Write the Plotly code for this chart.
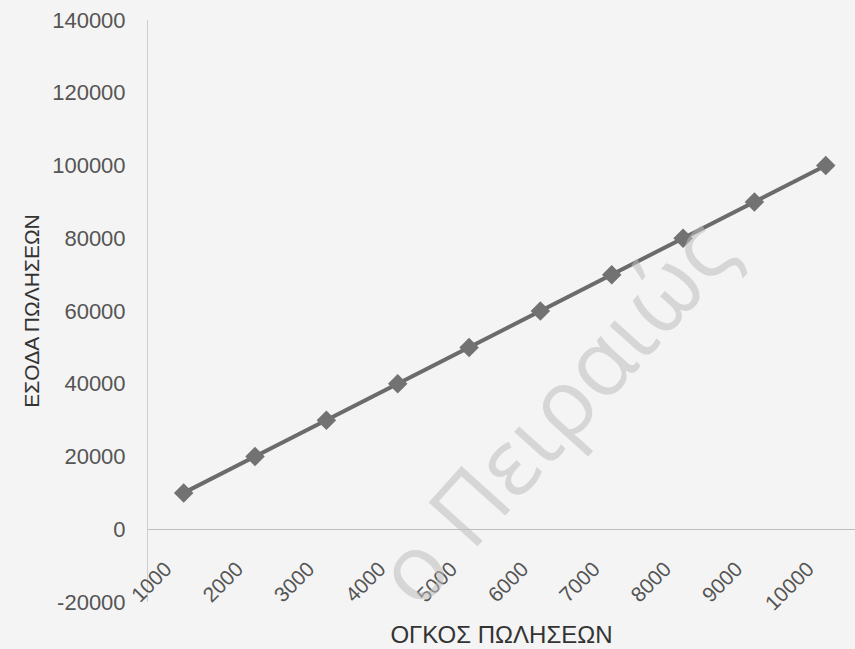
import plotly.graph_objects as go

# Sales volume (categories) and sales revenue
volume_labels = ["1000", "2000", "3000", "4000", "5000", "6000", "7000", "8000", "9000", "10000"]
revenue = [10000, 20000, 30000, 40000, 50000, 60000, 70000, 80000, 90000, 100000]
y_ticks = [-20000, 0, 20000, 40000, 60000, 80000, 100000, 120000, 140000]

x_idx = list(range(len(volume_labels)))

BG = "#f4f4f4"
FONT = "Liberation Sans, Arial, sans-serif"

fig = go.Figure()
fig.add_trace(go.Scatter(
    x=x_idx,
    y=revenue,
    mode="lines+markers",
    line=dict(color="#6b6b6b", width=4),
    marker=dict(symbol="diamond", size=15, color="#727272", line=dict(width=0)),
    showlegend=False,
    hoverinfo="skip",
))

# faint university watermark
fig.add_annotation(
    text="ο Πειραιώς",
    xref="paper", yref="paper",
    x=0.573, y=0.33,
    xanchor="center", yanchor="middle",
    textangle=-48,
    showarrow=False,
    font=dict(family="Open Sans, sans-serif", size=92, color="rgba(190,190,190,0.55)"),
)

fig.update_layout(
    width=855, height=649,
    margin=dict(l=148, r=0, t=20, b=47),
    paper_bgcolor=BG,
    plot_bgcolor=BG,
    font=dict(family=FONT, color="#555555"),
    xaxis=dict(
        tickmode="array",
        tickvals=x_idx,
        ticktext=volume_labels,
        range=[-0.5, 9.41],
        tickangle=-45,
        tickfont=dict(size=21, color="#555555"),
        showgrid=False,
        zeroline=False,
        showline=True,
        linecolor="#bdbdbd",
        linewidth=1,
        anchor="free",
        position=0.125,
        ticks="",
        ticklabelstandoff=18,
        ticklabelshift=-18,
        title=dict(text="ΟΓΚΟΣ ΠΩΛΗΣΕΩΝ", font=dict(size=24, color="#333333"), standoff=12),
    ),
    yaxis=dict(
        range=[-20000, 140000],
        tickmode="array",
        tickvals=y_ticks,
        ticktext=[str(v) for v in y_ticks],
        tickfont=dict(size=22, color="#555555"),
        showgrid=False,
        zeroline=False,
        showline=True,
        linecolor="#cccccc",
        linewidth=1,
        ticks="",
        ticklabelstandoff=17,
        title=dict(text="ΕΣΟΔΑ ΠΩΛΗΣΕΩΝ", font=dict(size=21, color="#333333"), standoff=6),
    ),
)

fig.write_html("out.html")
